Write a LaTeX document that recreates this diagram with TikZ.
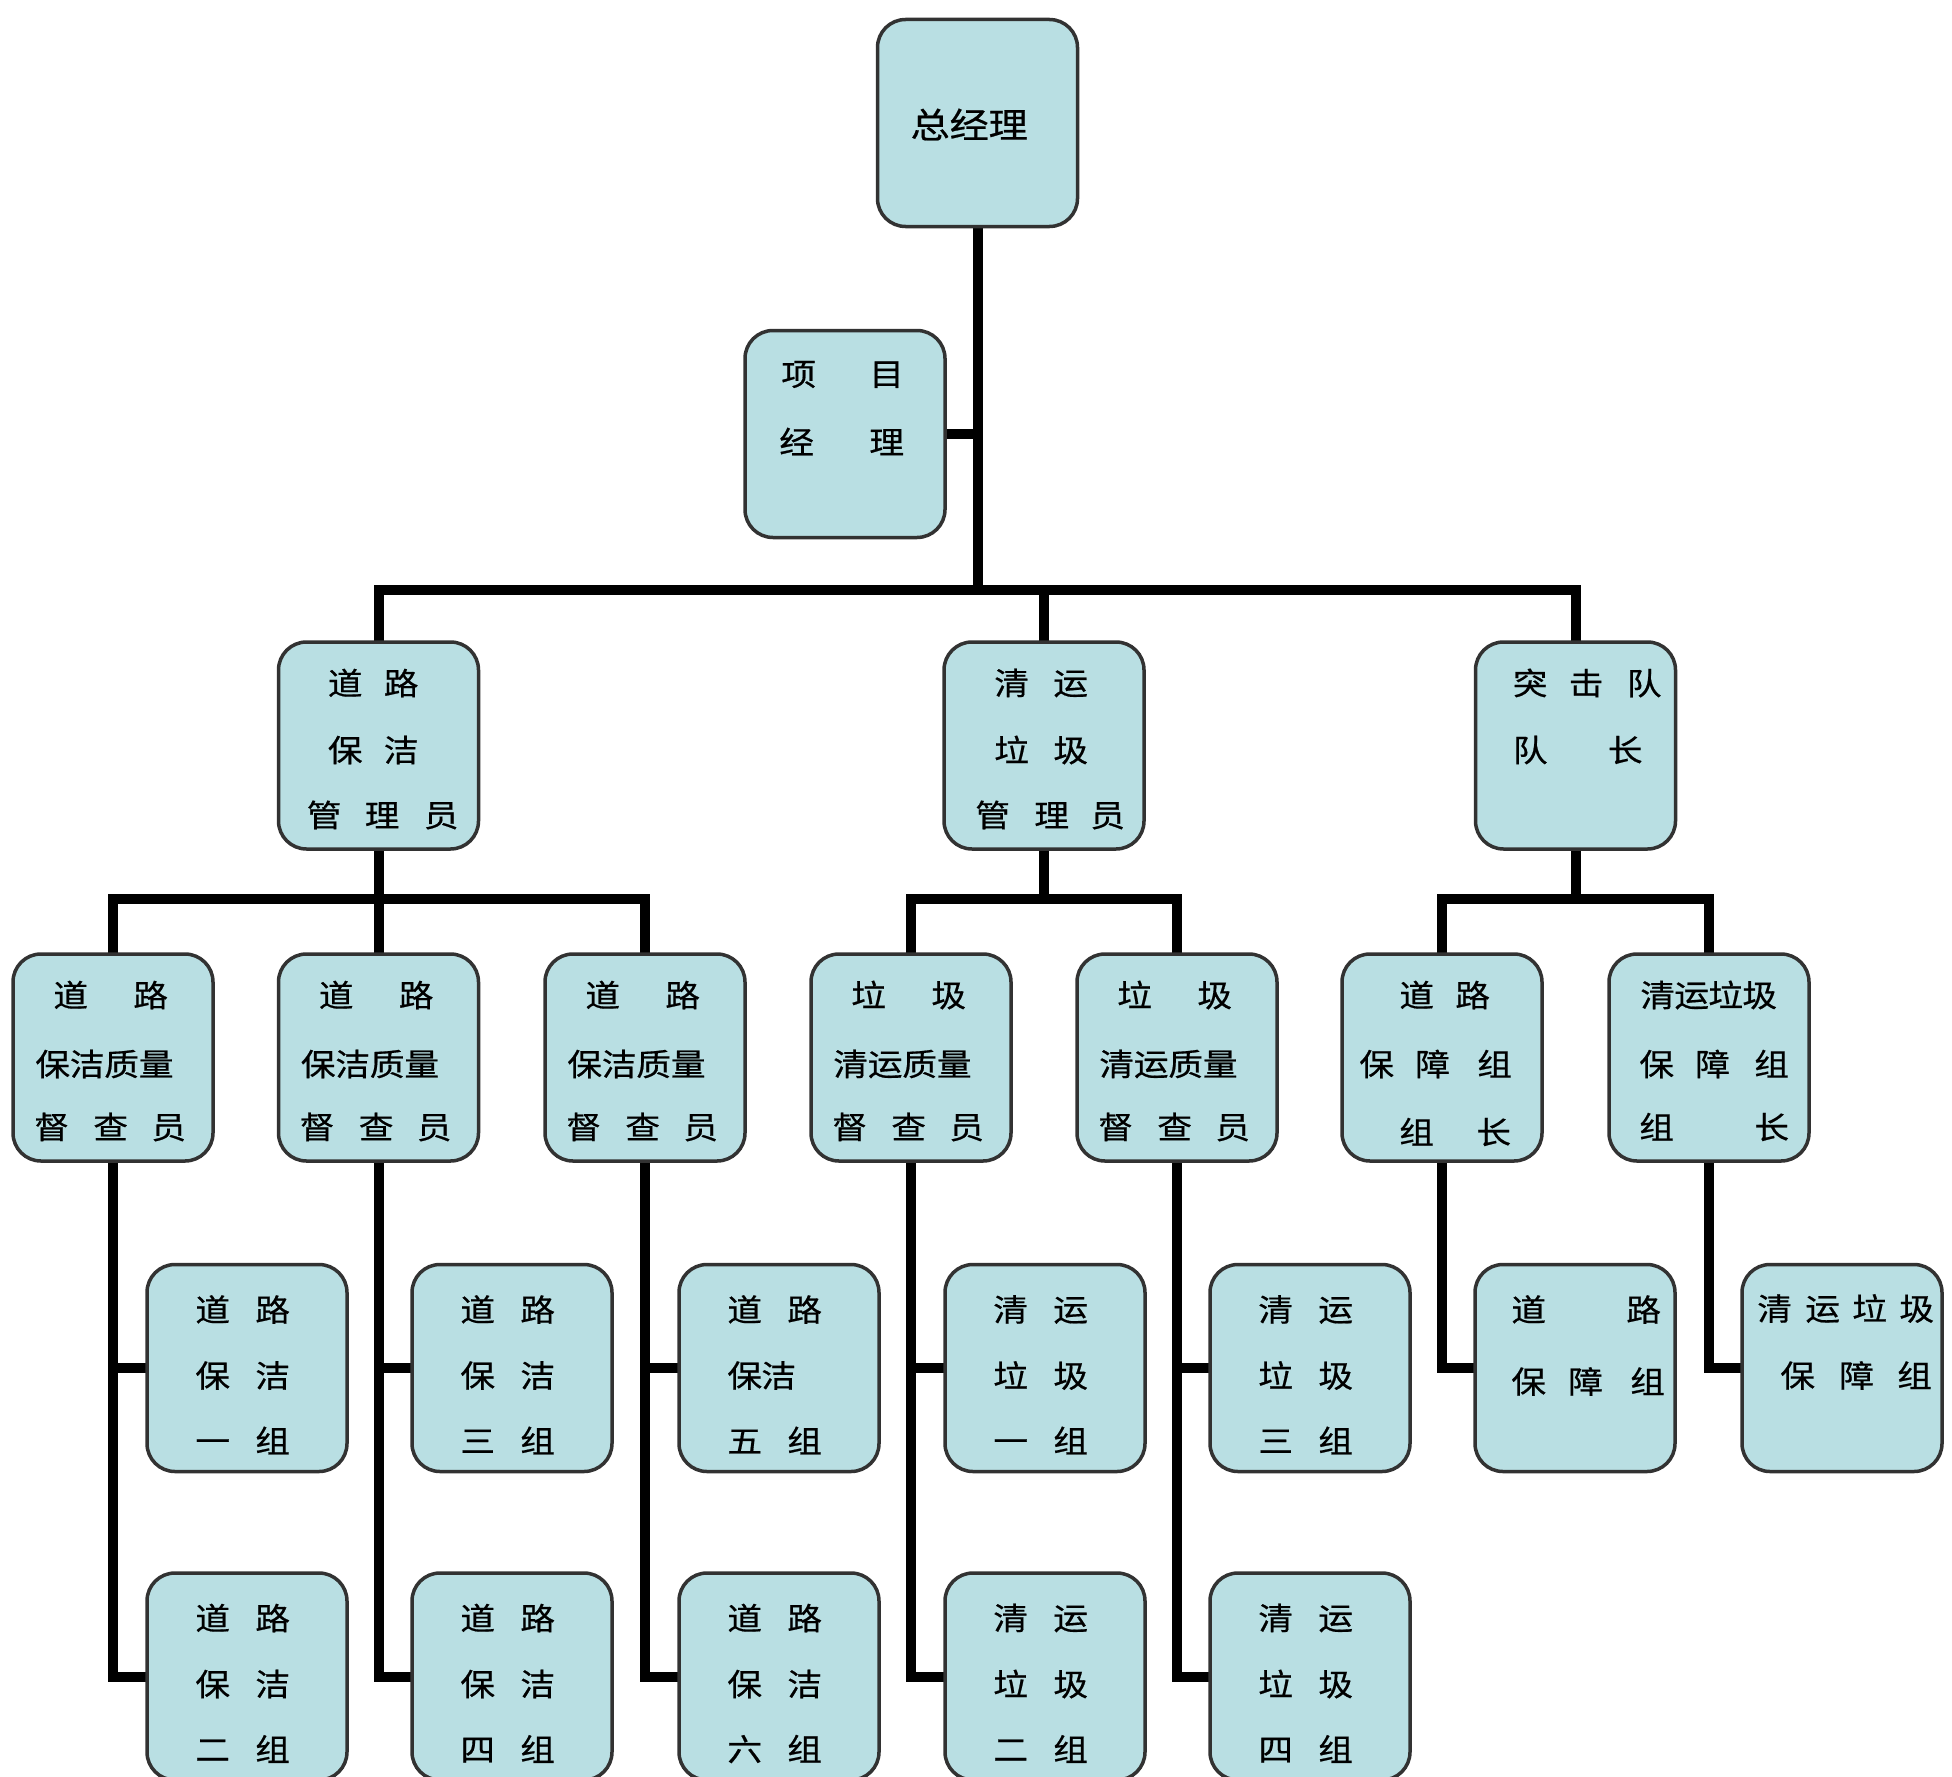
\documentclass[tikz,border=0pt]{standalone}
\usepackage{fontspec}
\newfontfamily\cjk[FakeStretch=1.12,FakeBold=0.6]{Noto Sans CJK SC}
\usetikzlibrary{backgrounds}
\definecolor{boxfill}{RGB}{185,223,227}
\definecolor{boxline}{RGB}{50,50,50}
\newcommand\cc[2]{\makebox[0pt][l]{\hspace*{#1pt}\makebox[0pt]{#2}}}
\newcommand\tline[4]{\node[txt] (#1) at ([yshift=-#3pt]#2.north west) {#4};}
\newcommand\stdfour[7]{%
  \tline{#1l1}{#1}{45}{\cc{65}{#2}\cc{125}{#3}}%
  \tline{#1l2}{#1}{111}{\cc{65}{#4}\cc{125}{#5}}%
  \tline{#1l3}{#1}{176}{\cc{65}{#6}\cc{125}{#7}}}
\newcommand\stdthree[7]{%
  \tline{#1l1}{#1}{41}{\cc{57}{#2}\cc{137}{#3}}%
  \tline{#1l2}{#1}{110}{\cc{39}{#4}\cc{73.5}{#5}\cc{108}{#6}\cc{142.5}{#7}}%
  \tline{#1l3}{#1}{173}{\cc{38}{督}\cc{97}{查}\cc{155}{员}}}
\tikzset{
  orgbox/.style={draw=boxline, fill=boxfill, line width=3.5pt, rounded corners=28pt,
    minimum width=200pt, minimum height=207pt, inner sep=0pt, outer sep=0pt},
  txt/.style={anchor=west, inner sep=0pt, font=\cjk\fontsize{31}{31}\selectfont},
  bigtxt/.style={anchor=west, inner sep=0pt, font=\cjk\fontsize{35}{35}\selectfont},
  conn/.style={line width=10pt, draw=black}
}
\begin{document}
\begin{tikzpicture}[x=1pt,y=-1pt]
\useasboundingbox (0,0) rectangle (1952,1777);
\clip (0,0) rectangle (1952,1777);
% boxes
\node[orgbox] (top) at (977.5,123) {};
\node[orgbox] (pm) at (845,434) {};
\node[orgbox] (m1) at (378.5,745.5) {};
\node[orgbox] (m2) at (1044,745.5) {};
\node[orgbox] (m3) at (1575.5,745.5) {};
\node[orgbox] (s1) at (113,1057.5) {};
\node[orgbox] (s2) at (378.5,1057.5) {};
\node[orgbox] (s3) at (645,1057.5) {};
\node[orgbox] (s4) at (911,1057.5) {};
\node[orgbox] (s5) at (1177,1057.5) {};
\node[orgbox] (s6) at (1442,1057.5) {};
\node[orgbox] (s7) at (1709,1057.5) {};
\node[orgbox] (a1) at (247,1368) {};
\node[orgbox] (a2) at (512,1368) {};
\node[orgbox] (a3) at (779,1368) {};
\node[orgbox] (a4) at (1045,1368) {};
\node[orgbox] (a5) at (1310,1368) {};
\node[orgbox] (a6) at (1575,1368) {};
\node[orgbox] (a7) at (1842,1368) {};
\node[orgbox] (b1) at (247,1676.5) {};
\node[orgbox] (b2) at (512,1676.5) {};
\node[orgbox] (b3) at (779,1676.5) {};
\node[orgbox] (b4) at (1045,1676.5) {};
\node[orgbox] (b5) at (1310,1676.5) {};
% texts
\node[bigtxt] (topl1) at ([yshift=-105pt]top.north west) {\cc{52}{总}\cc{91}{经}\cc{130}{理}};
\tline{pml1}{pm}{44}{\cc{53}{项}\cc{141}{目}}
\tline{pml2}{pm}{111}{\cc{51}{经}\cc{141}{理}}
\tline{m1l1}{m1}{41}{\cc{66}{道}\cc{122}{路}}
\tline{m1l2}{m1}{108}{\cc{66}{保}\cc{122}{洁}}
\tline{m1l3}{m1}{173}{\cc{45}{管}\cc{103}{理}\cc{162}{员}}
\tline{m2l1}{m2}{41}{\cc{67}{清}\cc{126}{运}}
\tline{m2l2}{m2}{108}{\cc{67}{垃}\cc{126}{圾}}
\tline{m2l3}{m2}{173}{\cc{48}{管}\cc{107}{理}\cc{163}{员}}
\tline{m3l1}{m3}{41}{\cc{54}{突}\cc{110}{击}\cc{168}{队}}
\tline{m3l2}{m3}{108}{\cc{54}{队}\cc{149}{长}}
\stdthree{s1}{道}{路}{保}{洁}{质}{量}
\stdthree{s2}{道}{路}{保}{洁}{质}{量}
\stdthree{s3}{道}{路}{保}{洁}{质}{量}
\stdthree{s4}{垃}{圾}{清}{运}{质}{量}
\stdthree{s5}{垃}{圾}{清}{运}{质}{量}
\tline{s6l1}{s6}{41}{\cc{74}{道}\cc{130}{路}}
\tline{s6l2}{s6}{110}{\cc{34}{保}\cc{90}{障}\cc{152}{组}}
\tline{s6l3}{s6}{178}{\cc{74}{组}\cc{151}{长}}
\tline{s7l1}{s7}{41}{\cc{48}{清}\cc{82}{运}\cc{116}{垃}\cc{150}{圾}}
\tline{s7l2}{s7}{110}{\cc{47}{保}\cc{103}{障}\cc{162}{组}}
\tline{s7l3}{s7}{173}{\cc{47}{组}\cc{162}{长}}
\stdfour{a1}{道}{路}{保}{洁}{一}{组}
\stdfour{b1}{道}{路}{保}{洁}{二}{组}
\stdfour{a2}{道}{路}{保}{洁}{三}{组}
\stdfour{b2}{道}{路}{保}{洁}{四}{组}
\tline{a3l1}{a3}{45}{\cc{65}{道}\cc{125}{路}}
\tline{a3l2}{a3}{111}{\cc{65}{保}\cc{99}{洁}}
\tline{a3l3}{a3}{176}{\cc{65}{五}\cc{125}{组}}
\stdfour{b3}{道}{路}{保}{洁}{六}{组}
\stdfour{a4}{清}{运}{垃}{圾}{一}{组}
\stdfour{b4}{清}{运}{垃}{圾}{二}{组}
\stdfour{a5}{清}{运}{垃}{圾}{三}{组}
\stdfour{b5}{清}{运}{垃}{圾}{四}{组}
\tline{a6l1}{a6}{45}{\cc{53}{道}\cc{168}{路}}
\tline{a6l2}{a6}{117}{\cc{53}{保}\cc{110}{障}\cc{172}{组}}
\tline{a7l1}{a7}{44}{\cc{32}{清}\cc{80}{运}\cc{127}{垃}\cc{174}{圾}}
\tline{a7l2}{a7}{111}{\cc{55}{保}\cc{114}{障}\cc{172}{组}}
% connectors
\begin{scope}[on background layer]
\coordinate (j1) at (977.5,590);
\coordinate (j2) at (378.5,899);
\coordinate (j3) at (1044,899);
\coordinate (j4) at (1575.5,899);
\draw[conn] (top.south) -- (j1);
\draw[conn] (pm.east) -- (pm.east -| j1);
\draw[conn] (m1.north) |- (j1) -| (m3.north);
\draw[conn] (m2.north) -- (m2.north |- j1);
\draw[conn] (s1.north) |- (j2) -| (s3.north);
\draw[conn] (m1.south) -- (s2.north);
\draw[conn] (s4.north) |- (j3) -| (s5.north);
\draw[conn] (m2.south) -- (j3);
\draw[conn] (s6.north) |- (j4) -| (s7.north);
\draw[conn] (m3.south) -- (j4);
\foreach \i in {1,...,5}{
  \draw[conn] (s\i.south) |- (b\i.west);
  \draw[conn] (s\i.south |- a\i.west) -- (a\i.west);
}
\draw[conn] (s6.south) |- (a6.west);
\draw[conn] (s7.south) |- (a7.west);
\end{scope}
\end{tikzpicture}
\end{document}
